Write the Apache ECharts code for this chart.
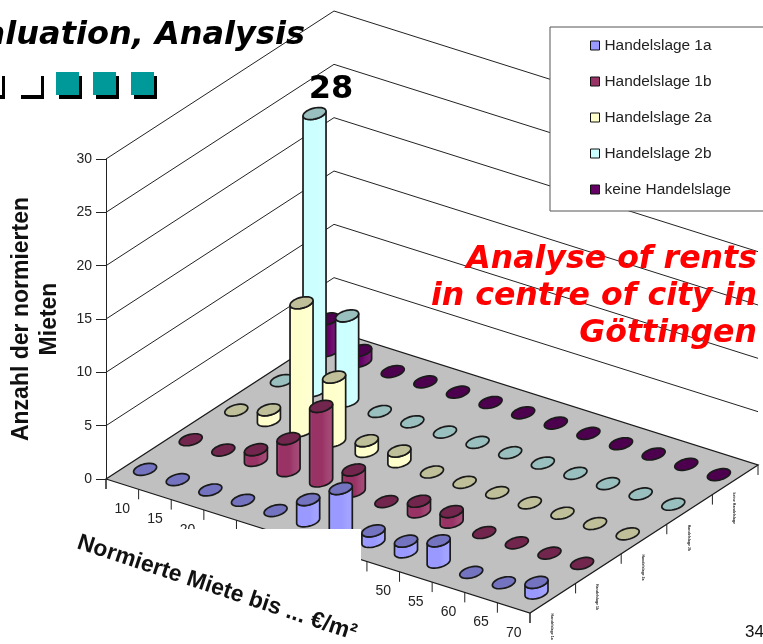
<!DOCTYPE html>
<html>
<head>
<meta charset="utf-8">
<style>
  html, body { margin: 0; padding: 0; background: #fff; overflow: hidden; }
  #chart { width: 763px; height: 644px; }
</style>
<script src="https://cdn.jsdelivr.net/npm/echarts@6/dist/echarts.min.js"></script>
</head>
<body>
<div id="chart"></div>
<script>
// 数据
const rents = ['10', '15', '20', '25', '30', '35', '40', '45', '50', '55', '60', '65', '70']
const names = ['Handelslage 1a', 'Handelslage 1b', 'Handelslage 2a', 'Handelslage 2b', 'keine Handelslage']
const lage1a = [0, 0, 0, 0, 0, 2, 4, 1, 1, 2, 0, 0, 1]
const lage1b = [0, 0, 1, 3, 7, 2, 0, 1, 1, 0, 0, 0, 0]
const lage2a = [0, 1, 12, 6, 1, 1, 0, 0, 0, 0, 0, 0, 0]
// the tall one reaches 26 on the axis, the slide writes 28 above it
const lage2b = [0, 26, 8, 0, 0, 0, 0, 0, 0, 0, 0, 0, 0]
const keine = [3, 1, 0, 0, 0, 0, 0, 0, 0, 0, 0, 0, 0]
const rows = [lage1a, lage1b, lage2a, lage2b, keine]
const bodyColors = ['#9999ff', '#993366', '#ffffcc', '#ccffff', '#660066']
const topColors = ['#7373bf', '#73264d', '#bfbf99', '#99bfbf', '#4d004d']

// floor projection: one step in depth, and how much the rent axis falls per px
const depthStep = [45.6, -29.6]
const skew = 134 / 424
const radiusRent = 0.24
const radiusDepth = 0.185
const lineColor = '#1a1a1a'
const arial = '"Liberation Sans", Arial, sans-serif'
const verdana = '"DejaVu Sans", Verdana, sans-serif'

// i and j may be fractions (cell edges), so step from the first band by its width
function project(api, i, j, v) {
  const band = api.size([1, 0])[0]
  const first = api.coord([0, v])
  const dx = (i + 0.5) * band
  return [
    first[0] + i * band + (j + 0.5) * depthStep[0],
    first[1] + dx * skew + (j + 0.5) * depthStep[1],
  ]
}

function line(a, b, color, width) {
  return {
    type: 'line',
    shape: { x1: a[0], y1: a[1], x2: b[0], y2: b[1] },
    style: { stroke: color || '#222', lineWidth: width || 1 },
  }
}

function label(text, x, y, font, rotation) {
  return {
    type: 'text',
    x,
    y,
    rotation: rotation || 0,
    style: { text, fill: '#222', font, align: 'center', verticalAlign: 'middle' },
  }
}

// floor, walls, ticks and the two skewed axes
function renderFrame(params, api) {
  const children = []
  const iMin = -0.5
  const iMax = rents.length - 0.5
  const jMin = -0.5
  const jMax = names.length - 0.5

  children.push({
    type: 'polygon',
    shape: {
      points: [
        project(api, iMin, jMin, 0),
        project(api, iMax, jMin, 0),
        project(api, iMax, jMax, 0),
        project(api, iMin, jMax, 0),
      ],
    },
    style: { fill: '#c0c0c0', stroke: lineColor, lineWidth: 1.3 },
  })

  for (let v = 5; v <= 30; v += 5) {
    children.push(line(project(api, iMin, jMin, v), project(api, iMin, jMax, v)))
    children.push(line(project(api, iMin, jMax, v), project(api, iMax, jMax, v)))
  }

  // rent ticks and labels
  for (let i = 0; i <= rents.length; i++) {
    const p = project(api, i - 0.5, jMin, 0)
    children.push(line(p, [p[0], p[1] + 10]))
    if (i < rents.length) {
      const c = project(api, i, jMin, 0)
      children.push(label(rents[i], c[0], c[1] + 25, `14px ${arial}`))
    }
  }

  // depth ticks and the tiny squeezed series names
  for (let j = 0; j <= names.length; j++) {
    const p = project(api, iMax, j - 0.5, 0)
    children.push(line(p, [p[0], p[1] + 10]))
    if (j < names.length) {
      const c = project(api, iMax, j, 0)
      children.push(label(names[j], c[0] - 1, c[1] + 28.5, `bold 3.6px ${arial}`, -Math.PI / 2))
    }
  }

  const corner = project(api, iMin, jMin, 0)
  children.push(line(corner, [corner[0], corner[1] + 10]))

  return { type: 'group', children }
}

// one cylinder standing on the floor, a flat disc when its value is 0
function renderCylinder(params, api) {
  const j = +params.seriesId
  const i = api.value(0)
  const v = api.value(1)
  const band = api.size([1, 0])[0]
  const ax = band * radiusRent
  const ay = band * skew * radiusRent
  const bx = depthStep[0] * radiusDepth
  const by = depthStep[1] * radiusDepth
  const base = project(api, i, j, 0)
  const top = project(api, i, j, v)
  const at = (c, t) => [
    c[0] + ax * Math.cos(t) + bx * Math.sin(t),
    c[1] + ay * Math.cos(t) + by * Math.sin(t),
  ]

  const ellipse = []
  for (let k = 0; k < 36; k++)
    ellipse.push(at(top, (k / 36) * Math.PI * 2))

  const children = []
  if (v > 0) {
    // silhouette: lower half of the base, back up along the lower half of the top
    const start = Math.atan2(bx, ax)
    const mid = start + Math.PI / 2
    const dir = ay * Math.cos(mid) + by * Math.sin(mid) > 0 ? 1 : -1
    const lower = []
    const upper = []
    for (let k = 0; k <= 18; k++) {
      const t = start + dir * (k / 18) * Math.PI
      lower.push(at(base, t))
      upper.unshift(at(top, t))
    }
    const color = bodyColors[j]
    children.push({
      type: 'polygon',
      shape: { points: lower.concat(upper) },
      style: {
        fill: {
          type: 'linear',
          x: 0,
          y: 0,
          x2: 1,
          y2: 0,
          colorStops: [
            { offset: 0, color: echarts.color.lift(color, 0.12) },
            { offset: 0.15, color },
            { offset: 0.55, color },
            { offset: 0.7, color: echarts.color.lift(color, 0.07) },
            { offset: 1, color: echarts.color.lift(color, 0.14) },
          ],
        },
        stroke: lineColor,
        lineWidth: 1.7,
      },
    })
  }
  children.push({
    type: 'polygon',
    shape: { points: ellipse },
    style: { fill: topColors[j], stroke: lineColor, lineWidth: 1.7 },
  })
  return { type: 'group', children }
}

const cylinderSeries = rows.map((row, j) => ({
  id: String(j),
  name: names[j],
  type: 'custom',
  coordinateSystem: 'cartesian2d',
  clip: false,
  silent: true,
  renderItem: renderCylinder,
  encode: { x: 0, y: 1 },
  itemStyle: { color: bodyColors[j] },
  data: row.map((v, i) => [i, v]),
})).reverse() // back row first, so the front rows cover it

function slideText(text, x, y, font, fill, align) {
  return {
    type: 'text',
    z: 12,
    x,
    y,
    style: { text, font, fill, align: align || 'left', verticalAlign: 'middle' },
  }
}

function bullet(x, fill) {
  return [
    { type: 'rect', z: 12, shape: { x: x + 3, y: 76, width: 23, height: 23 }, style: { fill: '#000' } },
    { type: 'rect', z: 13, shape: { x, y: 72, width: 23, height: 23 }, style: { fill } },
  ]
}

const redFont = `italic bold 31.6px ${verdana}`

const chart = echarts.init(document.getElementById('chart'), null, { renderer: 'canvas' })
chart.setOption({
  animation: false,
  backgroundColor: '#fff',
  grid: { left: 106, top: 159, width: 424, height: 320, outerBoundsMode: 'none' },
  xAxis: { type: 'category', data: rents, show: false },
  yAxis: {
    type: 'value',
    min: 0,
    max: 30,
    interval: 5,
    name: 'Anzahl der normierten\nMieten',
    nameLocation: 'middle',
    nameGap: 42,
    nameRotate: 90,
    nameTextStyle: { color: '#111', fontSize: 23, fontWeight: 'bold', fontFamily: arial, lineHeight: 28 },
    axisLine: { show: true, onZero: false, lineStyle: { color: '#222', width: 1 } },
    axisTick: { show: true, length: 10, lineStyle: { color: '#222' } },
    axisLabel: { color: '#222', fontSize: 14, fontFamily: arial, margin: 14 },
    splitLine: { show: false },
  },
  legend: {
    left: 550,
    top: 27,
    orient: 'vertical',
    data: names,
    icon: 'rect',
    itemWidth: 9,
    itemHeight: 9,
    itemGap: 21,
    padding: [11, 50, 14, 40],
    backgroundColor: '#fff',
    borderColor: '#555',
    borderWidth: 1,
    borderRadius: 0,
    itemStyle: { borderColor: '#111', borderWidth: 1 },
    textStyle: { color: '#222', fontSize: 15.4, fontFamily: arial },
    selectedMode: false,
  },
  graphic: [
    // the pasted axis title brings its own white background
    { type: 'rect', z: 10, shape: { x: 70, y: 529, width: 291, height: 115 }, style: { fill: '#fff' } },
    {
      type: 'text',
      z: 11,
      x: 217,
      y: 588,
      rotation: -Math.atan(93 / 281),
      style: { text: 'Normierte Miete bis ... €/m²', font: `bold 23px ${arial}`, fill: '#111', align: 'center', verticalAlign: 'middle' },
    },
    slideText('Evaluation, Analysis', 305, 36, `italic bold 32px ${verdana}`, '#000', 'right'),
    slideText('28', 331, 90, `bold 32px ${verdana}`, '#000', 'center'),
    slideText('Analyse of rents', 757, 260, redFont, '#ff0000', 'right'),
    slideText('in centre of city in', 757, 297, redFont, '#ff0000', 'right'),
    slideText('Göttingen', 757, 334, redFont, '#ff0000', 'right'),
    slideText('34', 745, 632, `17px ${arial}`, '#111'),
    ...bullet(-21, '#fff'),
    ...bullet(18, '#fff'),
    ...bullet(56, '#009999'),
    ...bullet(93, '#009999'),
    ...bullet(131, '#009999'),
  ],
  series: [
    {
      name: 'frame',
      type: 'custom',
      coordinateSystem: 'cartesian2d',
      clip: false,
      silent: true,
      renderItem: renderFrame,
      encode: { x: 0, y: 1 },
      data: [[0, 0]],
    },
    ...cylinderSeries,
  ],
})
</script>
</body>
</html>
